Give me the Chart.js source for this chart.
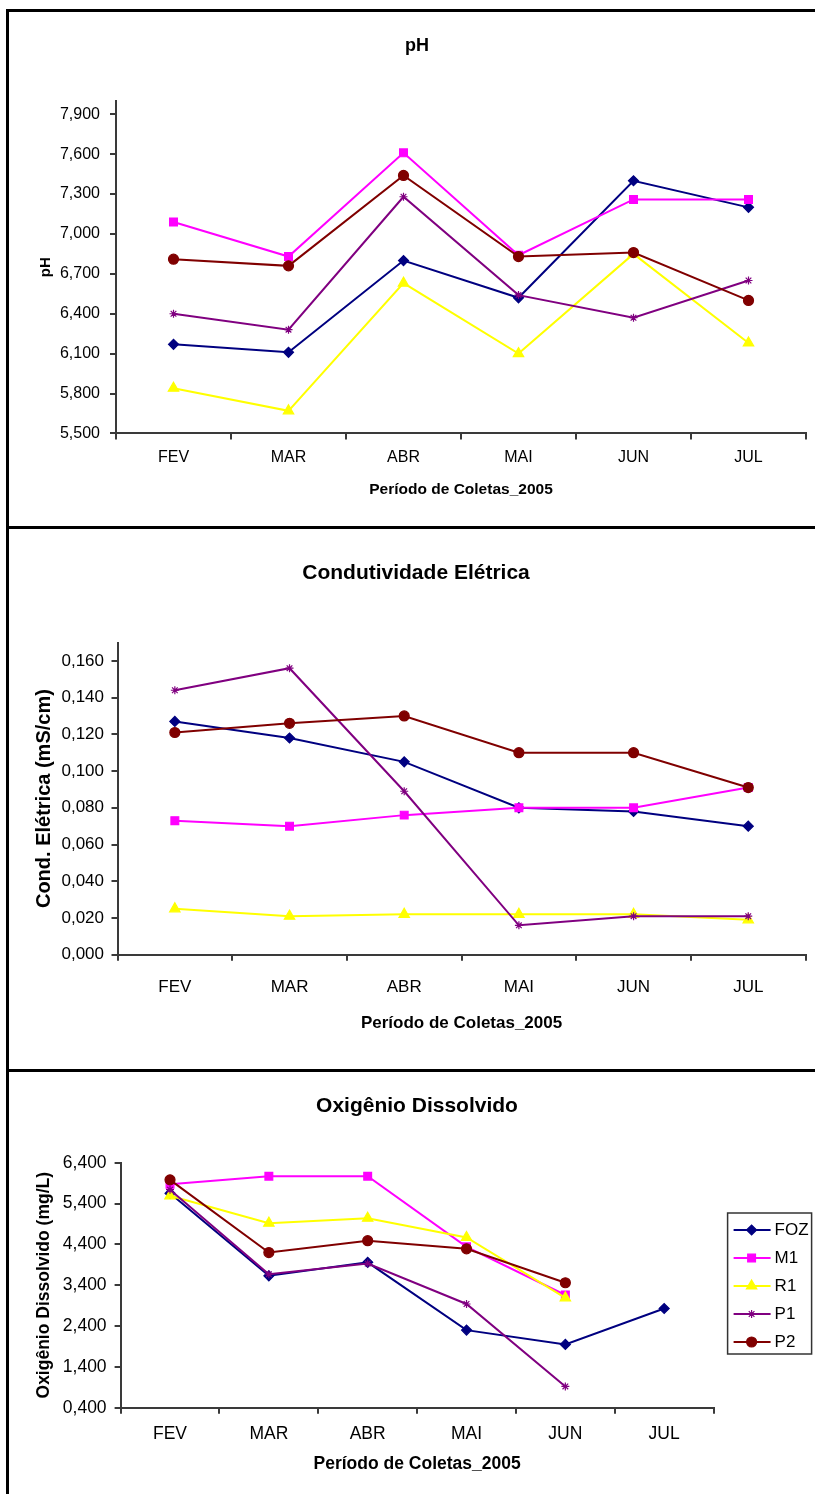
<!DOCTYPE html>
<html>
<head>
<meta charset="utf-8">
<script src="https://cdn.jsdelivr.net/npm/chart.js@4.4.1/dist/chart.umd.min.js"></script>
<style>
  html, body { margin: 0; padding: 0; background: #fff; }
  body { position: relative; width: 815px; height: 1494px; overflow: hidden; }
  .frame { position: absolute; left: 6px; width: 900px; border: 3px solid #000; box-sizing: border-box; }
  canvas { position: absolute; left: 0; }
</style>
</head>
<body>
<div class="frame" style="top:9px;height:520px"></div>
<div class="frame" style="top:526px;height:546px"></div>
<div class="frame" style="top:1069px;height:500px"></div>
<canvas id="phChart" width="815" height="514" style="top:12px"></canvas>
<canvas id="condChart" width="815" height="540" style="top:529px"></canvas>
<canvas id="odChart" width="815" height="422" style="top:1072px"></canvas>
<script>
const months = ['FEV', 'MAR', 'ABR', 'MAI', 'JUN', 'JUL'];
const seriesNames = ['FOZ', 'M1', 'R1', 'P1', 'P2'];

// pH
const phFOZ = [6.17, 6.11, 6.80, 6.52, 7.40, 7.20];
const phM1 = [7.09, 6.83, 7.61, 6.84, 7.26, 7.26];
const phR1 = [5.84, 5.67, 6.63, 6.10, 6.85, 6.18];
const phP1 = [6.40, 6.28, 7.28, 6.54, 6.37, 6.65];
const phP2 = [6.81, 6.76, 7.44, 6.83, 6.86, 6.50];
const phTicks = [5.5, 5.8, 6.1, 6.4, 6.7, 7.0, 7.3, 7.6, 7.9];

// Condutividade Elétrica (mS/cm)
const condFOZ = [0.127, 0.118, 0.105, 0.080, 0.078, 0.070];
const condM1 = [0.073, 0.070, 0.076, 0.080, 0.080, 0.091];
const condR1 = [0.025, 0.021, 0.022, 0.022, 0.022, 0.019];
const condP1 = [0.144, 0.156, 0.089, 0.016, 0.021, 0.021];
const condP2 = [0.121, 0.126, 0.130, 0.110, 0.110, 0.091];
const condTicks = [0, 0.02, 0.04, 0.06, 0.08, 0.10, 0.12, 0.14, 0.16];

// Oxigênio Dissolvido (mg/L)
const odFOZ = [5.65, 3.63, 3.96, 2.30, 1.95, 2.83];
const odM1 = [5.87, 6.07, 6.07, 4.34, 3.16, null];
const odR1 = [5.59, 4.92, 5.04, 4.57, 3.09, null];
const odP1 = [5.74, 3.67, 3.93, 2.94, 0.92, null];
const odP2 = [5.98, 4.20, 4.49, 4.29, 3.46, null];
const odTicks = [0.4, 1.4, 2.4, 3.4, 4.4, 5.4, 6.4];

// series styles (Excel defaults)
const seriesColors = ['#000080', '#FF00FF', '#FFFF00', '#800080', '#800000'];
const markerStyles = ['rectRot', 'rect', 'triangle', 'star', 'circle'];
const markerSizes = [5, 5.5, 6, 4, 5];
const axisColor = '#3a3a3a';
const fontFamily = 'Arial, "Liberation Sans", sans-serif';

Chart.defaults.font.family = fontFamily;
Chart.defaults.color = '#000';

const fmt = v => v.toFixed(3).replace('.', ',');

// boxed legend as a layout box on the right, so the title stays centred on the picture
const odLegend = {
    id: 'odLegend',
    start(chart) {
        const box = {
            position: 'right',
            weight: 1000,
            fullSize: false,
            options: {},
            isHorizontal: () => false,
            update(maxWidth, maxHeight) {
                this.width = 92.4;
                this.height = maxHeight;
            },
            draw() {
                const ctx = chart.ctx;
                const left = this.left + 14;
                const top = 141;
                ctx.save();
                ctx.strokeStyle = '#333';
                ctx.lineWidth = 1.5;
                ctx.strokeRect(left, top, 84, 141);
                chart.data.datasets.forEach((ds, i) => {
                    const y = top + 17 + i * 28;
                    ctx.strokeStyle = ds.borderColor;
                    ctx.lineWidth = 2;
                    ctx.beginPath();
                    ctx.moveTo(left + 6, y);
                    ctx.lineTo(left + 43, y);
                    ctx.stroke();
                    ctx.fillStyle = ds.backgroundColor;
                    ctx.lineWidth = 1.2;
                    Chart.helpers.drawPoint(ctx, { pointStyle: ds.pointStyle, radius: ds.pointRadius, rotation: 0, borderWidth: 1.2 }, left + 24, y);
                    ctx.fillStyle = '#000';
                    ctx.font = '17px ' + fontFamily;
                    ctx.textBaseline = 'middle';
                    ctx.textAlign = 'left';
                    ctx.fillText(ds.label, left + 47, y);
                });
                ctx.restore();
            }
        };
        Chart.layouts.addBox(chart, box);
    }
};

function buildChart(id, p) {
    const datasets = seriesNames.map((name, i) => ({
        label: name,
        data: p.series[i],
        borderColor: seriesColors[i],
        backgroundColor: seriesColors[i],
        pointStyle: markerStyles[i],
        pointRadius: markerSizes[i],
        pointBorderWidth: 1.2,
        borderWidth: 2,
        tension: 0,
        order: seriesNames.length - i
    }));
    return new Chart(document.getElementById(id), {
        type: 'line',
        data: { labels: months, datasets: datasets },
        options: {
            responsive: false,
            animation: false,
            events: [],
            // left padding keeps the title centred on the whole picture
            layout: { padding: { left: p.padLeft, right: p.padRight, top: 0, bottom: 0 } },
            plugins: {
                legend: { display: false },
                tooltip: { enabled: false },
                title: {
                    display: true,
                    text: p.title,
                    font: { size: p.titleSize, weight: 'bold' },
                    padding: { top: p.titleTop, bottom: p.titleBottom }
                }
            },
            scales: {
                x: {
                    offset: true,
                    grid: { offset: true, drawOnChartArea: false, drawTicks: true, tickLength: 6, color: axisColor, lineWidth: 2 },
                    border: { display: true, color: axisColor, width: 2 },
                    ticks: { font: { size: p.tickSize }, padding: p.xTickPad, maxRotation: 0, autoSkip: false },
                    title: {
                        display: true,
                        text: 'Período de Coletas_2005',
                        font: { size: p.xTitleSize, weight: 'bold' },
                        padding: { top: 0, bottom: p.xTitleBottom }
                    },
                    afterFit: s => { s.height = p.xHeight; }
                },
                y: {
                    min: p.min,
                    max: p.max,
                    afterBuildTicks: s => { s.ticks = p.ticks.map(v => ({ value: v })); },
                    grid: { drawOnChartArea: false, drawTicks: true, tickLength: 6, color: axisColor, lineWidth: 2 },
                    border: { display: true, color: axisColor, width: 2 },
                    ticks: { font: { size: p.tickSize }, padding: p.yTickPad, callback: v => fmt(v) },
                    title: {
                        display: true,
                        text: p.yTitle,
                        font: { size: p.yTitleSize, weight: 'bold' },
                        padding: { top: p.yTitleLeft, bottom: 0 }
                    },
                    afterFit: s => { s.width = p.yWidth; }
                }
            }
        },
        plugins: p.plugins || []
    });
}

const phChart = buildChart('phChart', {
    series: [phFOZ, phM1, phR1, phP1, phP2], ticks: phTicks, min: 5.5, max: 8.0,
    title: 'pH', titleSize: 18, titleTop: 23, titleBottom: 44.4,
    padLeft: 28, padRight: 9, yWidth: 88, yTickPad: 10, tickSize: 16,
    yTitle: 'pH', yTitleSize: 15, yTitleLeft: 8.5,
    xHeight: 92.6, xTickPad: 9, xTitleSize: 15.5, xTitleBottom: 26.7
});

const condChart = buildChart('condChart', {
    series: [condFOZ, condM1, condR1, condP1, condP2], ticks: condTicks, min: 0, max: 0.17,
    title: 'Condutividade Elétrica', titleSize: 21, titleTop: 31.4, titleBottom: 56.9,
    padLeft: 26.4, padRight: 9.4, yWidth: 91.1, yTickPad: 7.5, tickSize: 17,
    yTitle: 'Cond. Elétrica (mS/cm)', yTitleSize: 20, yTitleLeft: 5.6,
    xHeight: 114.3, xTickPad: 16, xTitleSize: 17, xTitleBottom: 35.8
});

const odChart = buildChart('odChart', {
    series: [odFOZ, odM1, odR1, odP1, odP2], ticks: odTicks, min: 0.4, max: 6.4,
    title: 'Oxigênio Dissolvido', titleSize: 21, titleTop: 21.4, titleBottom: 44.1,
    padLeft: 28, padRight: 9, yWidth: 92.6, yTickPad: 8, tickSize: 17.5,
    yTitle: 'Oxigênio Dissolvido (mg/L)', yTitleSize: 17.5, yTitleLeft: 5.5,
    xHeight: 86.3, xTickPad: 9.8, xTitleSize: 17.5, xTitleBottom: 19.5,
    plugins: [odLegend]
});
</script>
</body>
</html>
